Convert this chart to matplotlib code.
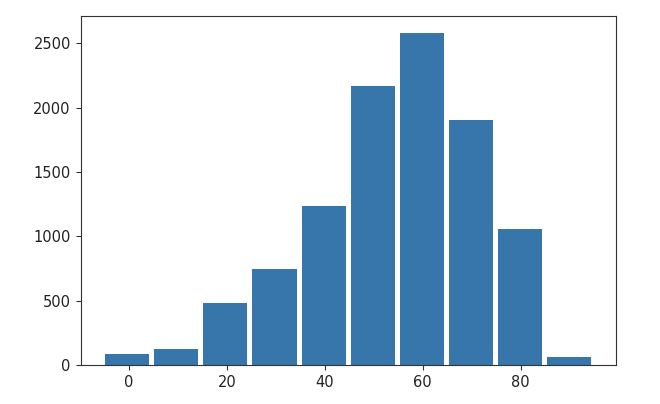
import matplotlib
matplotlib.use("Agg")
import matplotlib.pyplot as plt

# histogram: 10 bins, drawn at 90% of bin width
bin_edges = [-5.42, 4.62, 14.66, 24.70, 34.74, 44.78, 54.82, 64.86, 74.90, 84.94, 94.98]
counts = [83, 122, 483, 745, 1236, 2168, 2583, 1906, 1057, 60]

centers = [(a + b) / 2 for a, b in zip(bin_edges[:-1], bin_edges[1:])]

fig = plt.figure(figsize=(6.6, 4.04), dpi=100)
ax = fig.add_axes([0.1220, 0.0965, 0.8115, 0.8639])

ax.hist(centers, bins=bin_edges, weights=counts, rwidth=0.9, color="#3776ab")

ax.set_xlim(-9.93, 99.54)
ax.set_xticks([0, 20, 40, 60, 80])
ax.set_yticks([0, 500, 1000, 1500, 2000, 2500])
ax.tick_params(labelsize=10.5, colors="#333333", labelcolor="#222222")
for s in ax.spines.values():
    s.set_color("#333333")

fig.savefig("out.png", dpi=100)
